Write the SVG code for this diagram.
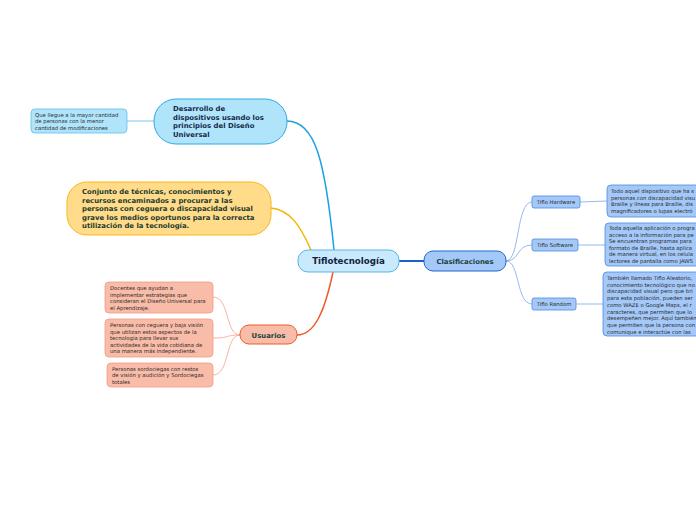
<svg xmlns="http://www.w3.org/2000/svg" width="696" height="520" viewBox="0 0 696 520">
<style>
text{font-family:"DejaVu Sans","Verdana",sans-serif;}
.s{font-size:5.3px;fill:#2a2a2a;}
.b{font-weight:bold;font-size:6.9px;}
.c{fill:none;}
</style>
<rect width="696" height="520" fill="#ffffff"/>
<g id="connectors">
<path class="c" d="M287,121 C315,121 325,160 334,250" stroke="#1ba1e2" stroke-width="1.5"/>
<path class="c" d="M271,208 C290,210 300,225 311,250" stroke="#f5b400" stroke-width="1.5"/>
<path class="c" d="M333,272 C325,310 315,335 297,335" stroke="#f05a28" stroke-width="1.5"/>
<path class="c" d="M399,261 L424,261" stroke="#1f5fc8" stroke-width="2"/>
<path class="c" d="M127,121 L154,121" stroke="#7cc8ee" stroke-width="1"/>
<path class="c" d="M506,261 C520,261 516,202 532,202" stroke="#7aa8e8" stroke-width="0.8"/>
<path class="c" d="M506,261 C520,261 516,245 532,245" stroke="#7aa8e8" stroke-width="0.8"/>
<path class="c" d="M506,261 C520,261 516,304 532,304" stroke="#7aa8e8" stroke-width="0.8"/>
<path class="c" d="M580,202 L607,201" stroke="#7aa8e8" stroke-width="0.8"/>
<path class="c" d="M578,245 L605,245" stroke="#7aa8e8" stroke-width="0.8"/>
<path class="c" d="M576,304 L603,304" stroke="#7aa8e8" stroke-width="0.8"/>
<path class="c" d="M240,335 C225,335 230,297 213,297" stroke="#f9a08a" stroke-width="0.8"/>
<path class="c" d="M240,335 C225,335 230,338 213,338" stroke="#f9a08a" stroke-width="0.8"/>
<path class="c" d="M240,335 C225,335 230,375 213,375" stroke="#f9a08a" stroke-width="0.8"/>
</g>
<g id="n-tiflo">
<rect x="298" y="250" width="101" height="22" rx="10" fill="#c8eafc" stroke="#5ab4e5" stroke-width="1"/>
<text x="348.5" y="264.3" text-anchor="middle" font-weight="bold" font-size="8.7" fill="#12233f">Tiflotecnología</text>
</g>
<g id="n-clas">
<rect x="424" y="251" width="82" height="20" rx="9" fill="#a4c8f8" stroke="#2166d0" stroke-width="1"/>
<text x="465" y="263.5" text-anchor="middle" class="b" font-size="6.6" fill="#1c3f3c">Clasificaciones</text>
</g>
<g id="n-hw">
<rect x="532" y="196" width="48" height="12" rx="2" fill="#a4c8f8" stroke="#4a8ae0" stroke-width="0.8"/>
<text x="556" y="204" text-anchor="middle" class="s">Tiflo Hardware</text>
</g>
<g id="n-sw">
<rect x="532" y="239" width="46" height="12" rx="2" fill="#a4c8f8" stroke="#4a8ae0" stroke-width="0.8"/>
<text x="555" y="247" text-anchor="middle" class="s">Tiflo Software</text>
</g>
<g id="n-rd">
<rect x="532" y="298" width="44" height="12" rx="2" fill="#a4c8f8" stroke="#4a8ae0" stroke-width="0.8"/>
<text x="554" y="306" text-anchor="middle" class="s">Tiflo Random</text>
</g>
<g id="n-hw-t">
<rect x="607" y="185" width="100" height="32" rx="4" fill="#a4c8f8" stroke="#4a8ae0" stroke-width="0.8"/>
<text class="s"><tspan x="611" y="193">Todo aquel dispositivo que ha s</tspan><tspan x="611" y="199.6">personas con discapacidad visu</tspan><tspan x="611" y="206.2">Braille y líneas para Braille, dis</tspan><tspan x="611" y="212.8">magnificadores o lupas electró</tspan></text>
</g>
<g id="n-sw-t">
<rect x="605" y="223" width="100" height="43" rx="4" fill="#a4c8f8" stroke="#4a8ae0" stroke-width="0.8"/>
<text class="s"><tspan x="609" y="230">Toda aquella aplicación o progra</tspan><tspan x="609" y="236.6">acceso a la información para pe</tspan><tspan x="609" y="243.2">Se encuentran programas para</tspan><tspan x="609" y="249.8">formato de Braille, hasta aplica</tspan><tspan x="609" y="256.4">de manera virtual, en los celula</tspan><tspan x="609" y="263">lectores de pantalla como JAWS</tspan></text>
</g>
<g id="n-rd-t">
<rect x="603" y="272" width="100" height="64" rx="4" fill="#a4c8f8" stroke="#4a8ae0" stroke-width="0.8"/>
<text class="s"><tspan x="607" y="280">También llamado Tiflo Aleatorio,</tspan><tspan x="607" y="286.7">conocimiento tecnológico que no</tspan><tspan x="607" y="293.4">discapacidad visual pero que bri</tspan><tspan x="607" y="300.1">para esta población, pueden ser</tspan><tspan x="607" y="306.8">como WAZE o Google Maps, el r</tspan><tspan x="607" y="313.5">caracteres, que permiten que lo</tspan><tspan x="607" y="320.2">desempeñen mejor. Aquí también</tspan><tspan x="607" y="326.9">que permiten que la persona con</tspan><tspan x="607" y="333.6">comunique e interactúe con las</tspan></text>
</g>
<g id="n-des">
<rect x="154" y="99" width="133" height="45" rx="22" fill="#b0e4fb" stroke="#2ea8e0" stroke-width="1"/>
<text class="b" fill="#16284a"><tspan x="173" y="111">Desarrollo de</tspan><tspan x="173" y="119.7">dispositivos usando los</tspan><tspan x="173" y="128.4">principios del Diseño</tspan><tspan x="173" y="137.1">Universal</tspan></text>
</g>
<g id="n-des-c">
<rect x="31" y="109" width="96" height="24" rx="4" fill="#b0e4fb" stroke="#5ec0ee" stroke-width="0.8"/>
<text class="s"><tspan x="35" y="117">Que llegue a la mayor cantidad</tspan><tspan x="35" y="123.3">de personas con la menor</tspan><tspan x="35" y="129.6">cantidad de modificaciones</tspan></text>
</g>
<g id="n-con">
<rect x="67" y="182" width="204" height="53" rx="20" fill="#ffdb8a" stroke="#f9b719" stroke-width="1"/>
<text class="b" fill="#1c3a2e"><tspan x="82" y="194">Conjunto de técnicas, conocimientos y</tspan><tspan x="82" y="202.6">recursos encaminados a procurar a las</tspan><tspan x="82" y="211.2">personas con ceguera o discapacidad visual</tspan><tspan x="82" y="219.8">grave los medios oportunos para la correcta</tspan><tspan x="82" y="228.4">utilización de la tecnología.</tspan></text>
</g>
<g id="n-usu">
<rect x="240" y="325" width="57" height="19" rx="9" fill="#f9bca8" stroke="#ef5a2a" stroke-width="1"/>
<text x="268.5" y="337.5" text-anchor="middle" class="b" font-size="7" fill="#1c3f3c">Usuarios</text>
</g>
<g id="n-u1">
<rect x="105" y="282" width="108" height="31" rx="4" fill="#f9bca8" stroke="#f49a82" stroke-width="0.8"/>
<text class="s"><tspan x="110" y="290">Docentes que ayudan a</tspan><tspan x="110" y="296.5">implementar estrategias que</tspan><tspan x="110" y="303">consideran el Diseño Universal para</tspan><tspan x="110" y="309.5">el Aprendizaje.</tspan></text>
</g>
<g id="n-u2">
<rect x="105" y="319" width="108" height="38" rx="4" fill="#f9bca8" stroke="#f49a82" stroke-width="0.8"/>
<text class="s"><tspan x="110" y="327">Personas con ceguera y baja visión</tspan><tspan x="110" y="333.5">que utilizan estos aspectos de la</tspan><tspan x="110" y="340">tecnología para llevar sus</tspan><tspan x="110" y="346.5">actividades de la vida cotidiana de</tspan><tspan x="110" y="353">una manera más independiente.</tspan></text>
</g>
<g id="n-u3">
<rect x="107" y="363" width="106" height="24" rx="4" fill="#f9bca8" stroke="#f49a82" stroke-width="0.8"/>
<text class="s"><tspan x="112" y="371">Personas sordociegas con restos</tspan><tspan x="112" y="377.3">de visión y audición y Sordociegas</tspan><tspan x="112" y="383.6">totales</tspan></text>
</g>
</svg>
